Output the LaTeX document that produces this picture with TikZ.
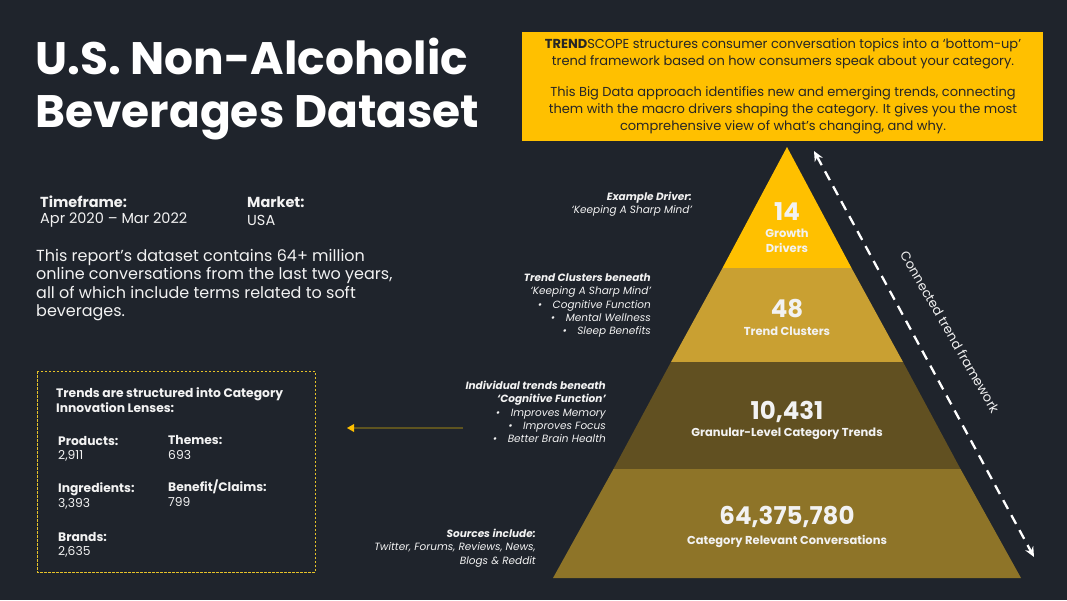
\documentclass[tikz,border=0pt]{standalone}
\usepackage{fontspec}
\setmainfont{Poppins}
\usetikzlibrary{arrows.meta}
\definecolor{bg}{HTML}{1F242C}
\definecolor{gold}{HTML}{FFC000}
\definecolor{tiertwo}{HTML}{C9A032}
\definecolor{tierthree}{HTML}{615021}
\definecolor{tierfour}{HTML}{8E7428}
\definecolor{txt}{HTML}{F2F2F2}
\definecolor{olive}{HTML}{5E5420}
\definecolor{dashgold}{HTML}{E6C229}
\tikzset{
  txtnode/.style={inner sep=0pt, text=txt},
  sidelabel/.style={txtnode, anchor=east, align=right, font=\fontsize{10.5}{13.4}\selectfont\itshape},
  tiernum/.style={txtnode, font=\fontsize{24.5}{26}\selectfont\bfseries},
  tierlab/.style={txtnode, font=\fontsize{11.5}{14.5}\selectfont\bfseries, align=center},
  boxhead/.style={txtnode, anchor=west, align=left, font=\fontsize{12.3}{15}\selectfont\bfseries},
  boxval/.style={txtnode, anchor=west, font=\fontsize{12.3}{15}\selectfont},
}
\begin{document}
\begin{tikzpicture}[x=1pt,y=-1pt]
\fill[bg] (0,0) rectangle (1067,600);
\useasboundingbox (0,0) rectangle (1067,600);

% Title
\node[txtnode, anchor=west, align=left, font=\fontsize{45.5}{53}\selectfont\bfseries, text=white] (title) at (35,89) {U.S. Non-Alcoholic\\Beverages Dataset};

% Yellow info box
\fill[gold] (522,32) rectangle (1043,141);
\node[inner sep=0pt, align=center, text=black!85, font=\fontsize{13}{17}\selectfont] (info) at (783,86)
{\textbf{TREND}SCOPE structures consumer conversation topics into a ‘bottom-up’\\
trend framework based on how consumers speak about your category.\\[14pt]
This Big Data approach identifies new and emerging trends, connecting\\
them with the macro drivers shaping the category. It gives you the most\\
comprehensive view of what’s changing, and why.};

% Timeframe / market
\node[txtnode, anchor=west, font=\fontsize{14.5}{17}\selectfont\bfseries] (tfh) at (40,202) {Timeframe:};
\node[txtnode, anchor=west, font=\fontsize{14.5}{17}\selectfont] (tfv) at (40,220) {Apr 2020 – Mar 2022};
\node[txtnode, anchor=west, font=\fontsize{14.5}{17}\selectfont\bfseries] (mkh) at (247,202) {Market:};
\node[txtnode, anchor=west, font=\fontsize{14.5}{17}\selectfont] (mkv) at (247,220) {USA};

\node[txtnode, anchor=north west, align=left, font=\fontsize{16}{18.5}\selectfont] (para) at (36,249)
{This report’s dataset contains 64+ million\\
online conversations from the last two years,\\
all of which include terms related to soft\\
beverages.};

% Dashed lenses box
\draw[dashgold, line width=0.9pt, dash pattern=on 2.5pt off 1.5pt] (37,371) rectangle (315,572);
\node[boxhead] (lenshead) at (56,400) {Trends are structured into Category\\Innovation Lenses:};
\node[boxhead] (prodh) at (58,441) {Products:};
\node[boxval] (prodv) at (58,456) {2,911};
\node[boxhead] (themh) at (168,440) {Themes:};
\node[boxval] (themv) at (168,455) {693};
\node[boxhead] (ingh) at (58,489) {Ingredients:};
\node[boxval] (ingv) at (58,504) {3,393};
\node[boxhead] (benh) at (168,487) {Benefit/Claims:};
\node[boxval] (benv) at (168,502) {799};
\node[boxhead] (brah) at (58,537) {Brands:};
\node[boxval] (brav) at (58,552) {2,635};

% Pyramid
\coordinate (apex) at (787,147);
\fill[gold] (787,147) -- (851.5,268) -- (722.5,268) -- cycle;
\fill[tiertwo] (722.5,268) -- (851.5,268) -- (903,362) -- (671,362) -- cycle;
\fill[tierthree] (671,362) -- (903,362) -- (960.5,469) -- (613.5,469) -- cycle;
\fill[tierfour] (613.5,469) -- (960.5,469) -- (1021,578) -- (553,578) -- cycle;

\node[tiernum] (n14) at (787,212) {14};
\node[tierlab] (l14) at (787,241) {Growth\\Drivers};
\node[tiernum] (n48) at (787,309) {48};
\node[tierlab] (l48) at (787,331) {Trend Clusters};
\node[tiernum] (n10) at (787,412) {10,431};
\node[tierlab] (l10) at (787,434) {Granular-Level Category Trends};
\node[tiernum] (n64) at (787,517) {64,375,780};
\node[tierlab] (l64) at (787,541) {Category Relevant Conversations};

% Side labels
\node[sidelabel] (ex) at (692,204) {\textbf{Example Driver:}\\‘Keeping A Sharp Mind’};
\node[sidelabel] (tc) at (651,305.5) {\textbf{Trend Clusters beneath}\\‘Keeping A Sharp Mind’\\•\quad Cognitive Function\\•\quad Mental Wellness\\•\quad Sleep Benefits};
\node[sidelabel] (it) at (606,412) {\textbf{Individual trends beneath}\\\textbf{‘Cognitive Function’}\\•\quad Improves Memory\\•\quad Improves Focus\\•\quad Better Brain Health};
\node[sidelabel] (src) at (536,548) {\textbf{Sources include:}\\Twitter, Forums, Reviews, News,\\Blogs \& Reddit};

% Arrow to lenses box
\coordinate (arrs) at (463,428);
\coordinate (arre) at (347,428);
\coordinate (arrb) at (352,428);
\draw[olive, line width=1.5pt] (arrs) -- (arrb);
\fill[gold] (arre) -- (354,424) -- (354,432) -- cycle;

% Connected trend framework arrow
\coordinate (cta) at (814,151);
\coordinate (ctb) at (1034,557);
\draw[white, line width=2.3pt, dash pattern=on 10pt off 7pt, {Stealth[length=10pt,width=9pt]}-{Stealth[length=10pt,width=9pt]}] (cta) -- (ctb);
\node[txtnode, rotate=-60, font=\fontsize{13}{15}\selectfont] (ctf) at (950,332) {Connected trend framework};
\end{tikzpicture}
\end{document}
